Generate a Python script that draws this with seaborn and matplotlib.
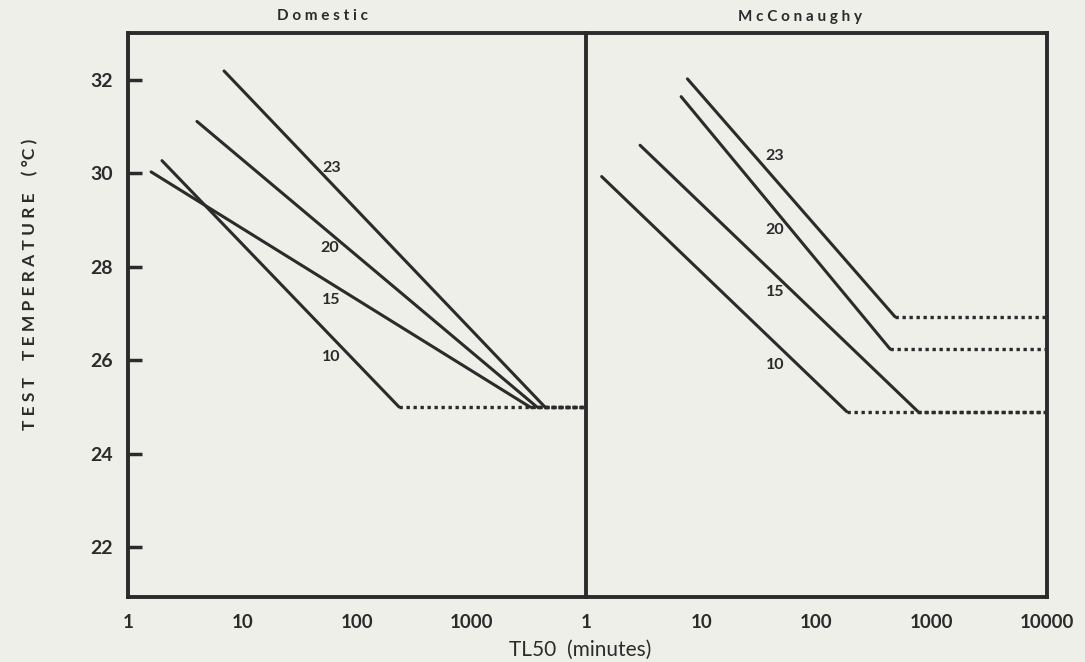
import numpy as np
import pandas as pd
import seaborn as sns
import matplotlib.pyplot as plt

# acclimation temperatures (line labels)
series = ['10', '15', '20', '23']

# Domestic: start / end of each solid line (TL50 minutes, test temperature)
dom_t0 = [1.98, 1.59, 4.0, 6.9]
dom_T0 = [30.27, 30.03, 31.11, 32.19]
dom_t1 = [233, 3240, 3730, 4380]
dom_T1 = [25.0, 25.0, 25.0, 25.0]

# McConaughy
mc_t0 = [1.37, 2.95, 6.7, 7.6]
mc_T0 = [29.93, 30.6, 31.64, 32.02]
mc_t1 = [183, 760, 435, 480]
mc_T1 = [24.9, 24.9, 26.24, 26.93]

t_max = 10000

# where the labels sit
dom_lab_t = [59, 59, 58, 60]
dom_lab_T = [26.07, 27.29, 28.4, 30.12]
mc_lab_t = [43.6, 43.6, 43.6, 43.6]
mc_lab_T = [25.9, 27.47, 28.79, 30.37]

x_ticks_left = [1, 10, 100, 1000]
x_ticks_right = [1, 10, 100, 1000, 10000]
y_ticks = [22, 24, 26, 28, 30, 32]

ink = '#2b2b2b'
paper = '#efefea'

sns.set_theme(style='white')
plt.rcParams['font.family'] = ['Lato', 'DejaVu Sans']


def build(t0, T0, t1, T1):
    solid = pd.DataFrame({
        'series': series * 2,
        't': list(t0) + list(t1),
        'T': list(T0) + list(T1),
    })
    dotted = pd.DataFrame({
        'series': series * 2,
        't': list(t1) + [t_max] * len(series),
        'T': list(T1) + list(T1),
    })
    return solid, dotted


fig = plt.figure(figsize=(10.85, 6.62), dpi=100, facecolor=paper)
ax_l = fig.add_axes([0.118, 0.098, 0.422, 0.852])
ax_r = fig.add_axes([0.540, 0.098, 0.425, 0.852])

panels = [
    (ax_l, build(dom_t0, dom_T0, dom_t1, dom_T1), dom_lab_t, dom_lab_T, x_ticks_left),
    (ax_r, build(mc_t0, mc_T0, mc_t1, mc_T1), mc_lab_t, mc_lab_T, x_ticks_right),
]

for ax, (solid, dotted), lab_t, lab_T, xt in panels:
    ax.patch.set_alpha(0)
    sns.lineplot(data=solid, x='t', y='T', units='series', estimator=None,
                 color=ink, lw=2.2, ax=ax, legend=False)
    sns.lineplot(data=dotted, x='t', y='T', units='series', estimator=None,
                 color=ink, lw=2.4, ax=ax, legend=False)
    for line in ax.lines[len(series):]:
        line.set_linestyle((0, (1, 1.1)))
    for s, lt, lT in zip(series, lab_t, lab_T):
        ax.text(lt, lT, s, ha='center', va='center', fontsize=11.5,
                fontweight='bold', color=ink)
    ax.set_xscale('log')
    ax.set_xlim(1, t_max)
    ax.set_ylim(20.93, 33)
    ax.set_xticks(xt)
    ax.set_xticklabels([str(v) for v in xt])
    ax.xaxis.set_minor_locator(plt.NullLocator())
    ax.tick_params(axis='x', direction='in', length=13, width=2.2,
                   color=ink, labelcolor=ink, labelsize=13.5, pad=12)
    for lbl in ax.get_xticklabels():
        lbl.set_fontweight('bold')
    ax.set_xlabel('')
    ax.set_ylabel('')
    for sp in ax.spines.values():
        sp.set_linewidth(2.8)
        sp.set_color(ink)

ax_l.set_yticks(y_ticks)
ax_l.set_yticklabels([str(v) for v in y_ticks])
ax_l.tick_params(axis='y', direction='in', length=10, width=2.5, left=True,
                 color=ink, labelcolor=ink, labelsize=14, pad=11)
for lbl in ax_l.get_yticklabels():
    lbl.set_fontweight('bold')
ax_r.set_yticks([])
ax_r.spines['left'].set_visible(False)

fig.text(0.297, 0.976, 'D o m e s t i c', ha='center', va='center',
         fontsize=11, fontweight='bold', color=ink)
fig.text(0.737, 0.974, 'M c C o n a u g h y', ha='center', va='center',
         fontsize=11, fontweight='bold', color=ink)
fig.text(0.535, 0.018, 'TL50  (minutes)', ha='center', va='center',
         fontsize=15, color=ink)
fig.text(0.028, 0.57, 'T E S T    T E M P E R A T U R E    ( °C )', ha='center',
         va='center', rotation=90, fontsize=12.5, fontweight='bold', color=ink)

fig.savefig('out.png', dpi=100, facecolor=paper)
